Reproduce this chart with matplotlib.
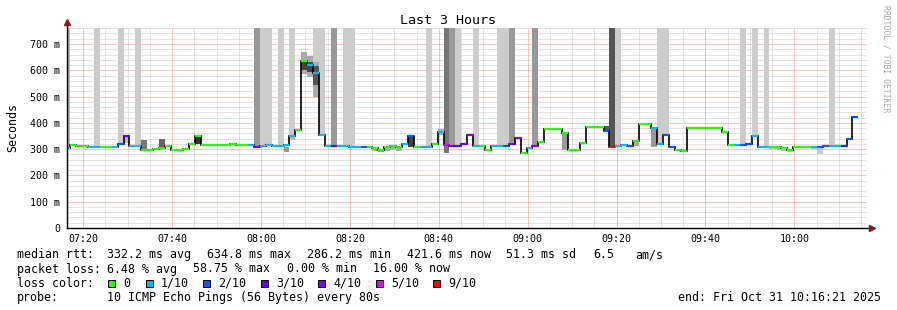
import matplotlib
matplotlib.use("Agg")
import matplotlib.pyplot as plt
from matplotlib.patches import Rectangle
import numpy as np

# ---------------- data ----------------
# median RTT (ms) as runs of 80 s steps, with loss count (of 10 pings) per run
run_len = [1, 1, 2, 2, 2, 1, 1, 1, 2, 2, 1, 1, 1, 2, 1, 1, 1, 5, 1, 2,
           1, 1, 1, 1, 1, 1, 1, 1, 1, 1, 1, 1, 1, 1, 1, 2, 2, 1, 1, 1,
           1, 1, 1, 1, 1, 1, 1, 2, 1, 1, 1, 2, 1, 1, 1, 1, 1, 2, 1, 1,
           1, 1, 1, 1, 1, 3, 1, 2, 1, 3, 1, 1, 1, 1, 1, 1, 2, 1, 1, 1,
           1, 1, 1, 6, 1, 1, 1, 1, 1, 1, 2, 1, 1, 1, 1, 3, 1, 1, 1, 2,
           1, 1, 1]
run_ms = [305, 315, 311, 310, 310, 310, 319, 350, 312, 297, 300, 305, 313, 296, 300, 319, 350, 316, 320, 317,
          315, 310, 312, 314, 311, 313, 316, 350, 372, 635, 622, 591, 354, 312, 312, 312, 310, 310, 308, 303,
          297, 307, 312, 308, 319, 350, 308, 309, 320, 365, 316, 313, 321, 354, 312, 311, 298, 311, 312, 320,
          344, 286, 303, 313, 327, 377, 362, 297, 322, 386, 370, 309, 313, 317, 311, 331, 395, 380, 320, 354,
          308, 295, 293, 380, 365, 317, 317, 315, 320, 351, 310, 310, 308, 303, 297, 310, 310, 307, 313, 312,
          312, 338, 422]
run_loss = [1, 0, 0, 1, 0, 1, 2, 3, 1, 0, 0, 0, 0, 0, 0, 0, 0, 0, 0, 0,
            1, 3, 1, 1, 1, 1, 1, 1, 0, 0, 1, 1, 1, 1, 3, 1, 1, 2, 0, 0,
            0, 0, 0, 0, 1, 2, 0, 1, 0, 1, 5, 3, 4, 4, 1, 0, 0, 1, 2, 4,
            4, 0, 1, 4, 0, 0, 0, 0, 0, 0, 2, 9, 1, 1, 2, 0, 0, 1, 1, 2,
            2, 0, 0, 0, 0, 0, 1, 2, 2, 1, 1, 0, 0, 0, 0, 0, 1, 2, 2, 1,
            3, 2, 2]

# full-height loss bars (step index, loss level)
bar_step = [0, 5, 9, 12, 32, 33, 34, 36, 38, 42, 43, 45, 47, 48, 61, 64, 65, 66,
            69, 73, 74, 75, 79, 92, 93, 100, 101, 114, 116, 118, 129]
bar_loss = [2, 1, 1, 1, 3, 1, 1, 1, 1, 1, 1, 3, 1, 1, 1, 5, 3, 1,
            1, 1, 1, 3, 3, 9, 1, 1, 1, 1, 1, 1, 1]

# smoke (spread of pings) per step: index, low ms, high ms, grey
smoke_step = [40, 41, 42, 40, 41, 42, 10, 13, 16, 22, 37, 38, 52, 53, 54, 55, 56,
              58, 63, 64, 84, 91, 96, 99, 119, 120, 121, 122, 126, 127]
smoke_lo = [585, 575, 500, 600, 595, 545, 322, 300, 305, 318, 288, 335, 292, 290, 293, 296, 294,
            308, 354, 286, 297, 370, 313, 309, 300, 298, 294, 290, 298, 280]
smoke_hi = [668, 655, 630, 640, 632, 618, 350, 335, 338, 348, 309, 350, 303, 297, 307, 312, 308,
            348, 378, 316, 360, 388, 331, 377, 310, 308, 303, 297, 310, 307]
smoke_grey = ['#aaaaaa', '#aaaaaa', '#aaaaaa', '#444444', '#444444', '#555555', '#bbbbbb', '#777777',
              '#666666', '#333333', '#999999', '#bbbbbb', '#aaaaaa', '#999999', '#aaaaaa', '#aaaaaa',
              '#aaaaaa', '#444444', '#aaaaaa', '#777777', '#999999', '#555555', '#aaaaaa', '#999999',
              '#bbbbbb', '#bbbbbb', '#bbbbbb', '#bbbbbb', '#cccccc', '#cccccc']

loss_levels = [0, 1, 2, 3, 4, 5, 9]
loss_labels = ["0", "1/10", "2/10", "3/10", "4/10", "5/10", "9/10"]
loss_colors = ["#26ff00", "#00b8ff", "#0059ff", "#5e00ff", "#7e00ff", "#dd00ff", "#ff0000"]
bar_shades = {1: "#cccccc", 2: "#b4b4b4", 3: "#999999", 5: "#777777", 9: "#555555"}

x_tick_labels = ["07:20", "07:40", "08:00", "08:20", "08:40", "09:00", "09:20", "09:40", "10:00"]
y_ticks_ms = [0, 100, 200, 300, 400, 500, 600, 700]

title = "Last 3 Hours"
stats1 = ["median rtt:", "332.2 ms avg", "634.8 ms max", "286.2 ms min", "421.6 ms now", "51.3 ms sd", "6.5", "am/s"]
stats2 = ["packet loss:", "6.48 % avg", "58.75 % max", "0.00 % min", "16.00 % now"]
probe = "10 ICMP Echo Pings (56 Bytes) every 80s"
end_text = "end: Fri Oct 31 10:16:21 2025"

# ---------------- derived ----------------
median = np.repeat(run_ms, run_len).astype(float)
loss = np.repeat(run_loss, run_len)
step_min = 80 / 60.0
first_edge = -0.607           # minutes relative to 07:16:21
edges = first_edge + step_min * np.arange(len(median) + 1)
YTOP = 762

W, H = 897, 310
plt.rcParams["font.family"] = ["DejaVu Sans Mono"]
fig = plt.figure(figsize=(W / 100, H / 100), dpi=100)
fig.patch.set_facecolor("white")
ax = fig.add_axes([67 / W, (H - 228) / H, (867 - 67) / W, (228 - 27.7) / H])
ax.set_xlim(0, 180)
ax.set_ylim(0, YTOP)
ax.set_facecolor("white")

# grid
first_tick = 3 + 39 / 60.0  # 07:20:00 relative to 07:16:21
major_x = [first_tick + 20 * i for i in range(len(x_tick_labels))]
minor_x = [first_tick + 5 * i for i in range(36) if i % 4 != 0 and first_tick + 5 * i < 180]
for v in range(20, YTOP, 20):
    if v % 100:
        ax.axhline(v, color="#c8c8c8", lw=0.72, ls=(0, (1, 1)), zorder=0.5)
for x in minor_x:
    ax.axvline(x, color="#c8c8c8", lw=0.72, ls=(0, (1, 1)), zorder=0.5)
for v in y_ticks_ms[1:]:
    ax.axhline(v, color="#f08c8c", lw=0.72, ls=(0, (1, 1)), zorder=0.6)
for x in major_x:
    ax.axvline(x, color="#f08c8c", lw=0.72, ls=(0, (1, 1)), zorder=0.6)

# loss bars (full height above median)
for k, lv in zip(bar_step, bar_loss):
    ax.bar(edges[k], YTOP - median[k], bottom=median[k], width=step_min, align="edge",
           color=bar_shades[lv], linewidth=0, zorder=1)

# smoke
for k, lo, hi, c in zip(smoke_step, smoke_lo, smoke_hi, smoke_grey):
    ax.bar(edges[k], hi - lo, bottom=lo, width=step_min, align="edge",
           color=c, linewidth=0, zorder=2)

# median line
ax.stairs(median, edges, baseline=None, color="black", lw=1.2, zorder=3)
cmap = dict(zip(loss_levels, loss_colors))
ax.hlines(median, edges[:-1], edges[1:], colors=[cmap[l] for l in loss], lw=1.6, zorder=4)

# axes
for s in ax.spines.values():
    s.set_visible(False)
ax.plot([0, 0], [0, 1.028], transform=ax.transAxes, color="black", lw=1.0, clip_on=False, zorder=5)
ax.plot([0, 1.006], [0, 0], transform=ax.transAxes, color="black", lw=1.0, clip_on=False, zorder=5)
ax.plot([0], [1.03], marker="^", color="#8b1a1a", ms=4, transform=ax.transAxes, clip_on=False, zorder=6)
ax.plot([1.006], [0], marker=">", color="#8b1a1a", ms=4, transform=ax.transAxes, clip_on=False, zorder=6)

ax.set_yticks(y_ticks_ms)
ax.set_yticklabels([("%d m" % v) if v else "0" for v in y_ticks_ms], fontsize=7.2)
ax.set_xticks(major_x)
ax.set_xticklabels(x_tick_labels, fontsize=7.2)
ax.tick_params(axis="y", length=0, pad=5)
ax.tick_params(axis="x", length=0, pad=4.5)

def ftext(x, y, s, **kw):
    fig.text(x / W, 1 - y / H, s, **kw)

ftext(448, 23.5, title, ha="center", va="baseline", fontsize=9.6)
ftext(13, 128, "Seconds", ha="center", va="center", rotation=90, fontsize=8.4)
ftext(886, 5, "RRDTOOL / TOBI OETIKER", ha="center", va="top", rotation=270, fontsize=5.9, color="#aaaaaa")

fs = 8.4
rows = [258.3, 272.5, 286.7, 300.9]
xs1 = [16.7, 107, 207, 307, 407, 506, 593, 635]
for x, s in zip(xs1, stats1):
    ftext(x, rows[0], s, va="baseline", fontsize=fs)
xs2 = [16.7, 107, 193, 286.5, 372.5]
for x, s in zip(xs2, stats2):
    ftext(x, rows[1], s, va="baseline", fontsize=fs)
ftext(16.7, rows[2], "loss color:", va="baseline", fontsize=fs)
sq_x = [108, 146, 203, 261, 318, 376, 433]
for x, c, lab in zip(sq_x, loss_colors, loss_labels):
    fig.patches.append(Rectangle((x / W, 1 - 286.5 / H), 7 / W, 7 / H, transform=fig.transFigure,
                                 facecolor=c, edgecolor="black", lw=0.7))
    ftext(x + 15, rows[2], lab, va="baseline", fontsize=fs)
ftext(16.7, rows[3], "probe:", va="baseline", fontsize=fs)
ftext(107, rows[3], probe, va="baseline", fontsize=fs)
ftext(881, rows[3], end_text, ha="right", va="baseline", fontsize=fs)

fig.savefig("out.png", dpi=100, facecolor="white")
